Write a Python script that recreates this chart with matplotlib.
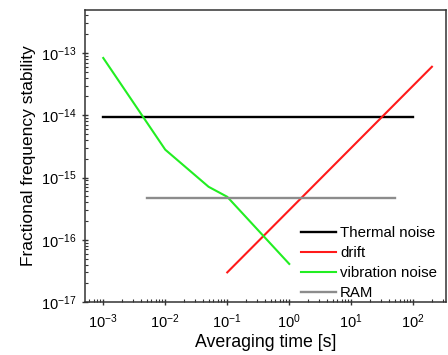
import numpy as np
import matplotlib
matplotlib.use("Agg")
import matplotlib.pyplot as plt
from matplotlib.ticker import LogLocator, FixedLocator, LogFormatterSciNotation

plt.rcParams['font.family'] = ['Liberation Sans', 'DejaVu Sans']
plt.rcParams['mathtext.default'] = 'regular'

# data
thermal_t = [1e-3, 1e2]
thermal_y = [9.2e-15, 9.2e-15]

drift_t = [0.1, 200]
drift_y = [3e-17, 6e-14]

vib_t = [1e-3, 1e-2, 0.05, 0.1, 1.0]
vib_y = [8.3e-14, 2.8e-15, 7.1e-16, 4.9e-16, 4.1e-17]

ram_t = [5e-3, 50]
ram_y = [4.7e-16, 4.7e-16]

x_ticks = [1e-3, 1e-2, 1e-1, 1e0, 1e1, 1e2]
y_ticks = [1e-17, 1e-16, 1e-15, 1e-14, 1e-13]

fig = plt.figure(figsize=(4.48, 3.55), dpi=100)
ax = fig.add_axes([0.19, 0.149, 0.806, 0.823])

ax.plot(thermal_t, thermal_y, color='black', lw=1.7, label='Thermal noise')
ax.plot(drift_t, drift_y, color='#ff1a1a', lw=1.5, label='drift')
ax.plot(vib_t, vib_y, color='#22ee22', lw=1.5, label='vibration noise')
ax.plot(ram_t, ram_y, color='#8c8c8c', lw=1.7, label='RAM')

ax.set_xscale('log')
ax.set_yscale('log')
ax.set_xlim(5.1e-4, 3.4e2)
ax.set_ylim(1e-17, 4.9e-13)

ax.xaxis.set_major_locator(FixedLocator(x_ticks))
ax.yaxis.set_major_locator(FixedLocator(y_ticks))
ax.xaxis.set_major_formatter(LogFormatterSciNotation())
ax.yaxis.set_major_formatter(LogFormatterSciNotation())
ax.xaxis.set_minor_locator(LogLocator(base=10, subs=np.arange(2, 10), numticks=20))
ax.yaxis.set_minor_locator(LogLocator(base=10, subs=np.arange(2, 10), numticks=20))
ax.xaxis.set_minor_formatter(plt.NullFormatter())
ax.yaxis.set_minor_formatter(plt.NullFormatter())

ax.tick_params(which='major', direction='inout', length=5, width=1, labelsize=10.5, color='#333333')
ax.tick_params(axis='x', which='major', pad=5)
ax.tick_params(which='minor', direction='in', length=2.5, width=0.8, color='#333333')
for s in ax.spines.values():
    s.set_color('#333333')
    s.set_linewidth(1.1)

ax.set_xlabel('Averaging time [s]', fontsize=12.8, labelpad=2)
ax.set_ylabel('Fractional frequency stability', fontsize=12.5, labelpad=4)

ax.legend(loc='lower right', bbox_to_anchor=(1.0, -0.025), frameon=False, fontsize=10.8,
          handlelength=2.3, handletextpad=0.3, labelspacing=0.4, borderaxespad=0.2)

fig.savefig('out.png', dpi=100)
